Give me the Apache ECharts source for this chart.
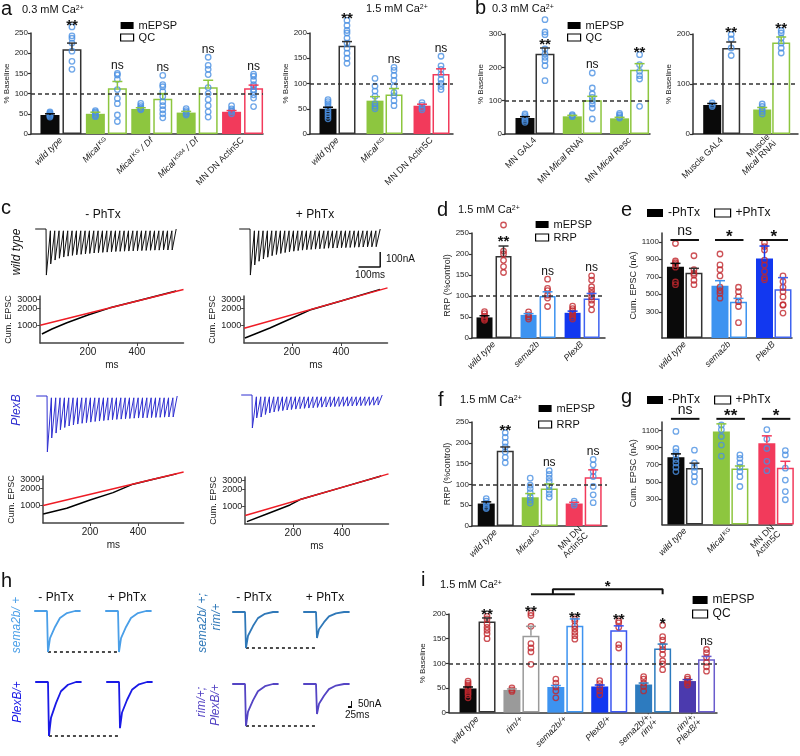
<!DOCTYPE html>
<html>
<head>
<meta charset="utf-8">
<script src="https://cdn.jsdelivr.net/npm/echarts@6.0.0/dist/echarts.min.js"></script>
<style>
html, body { margin: 0; padding: 0; background: #fff; }
#fig { width: 800px; height: 756px; }
</style>
</head>
<body>
<div id="fig"></div>
<script>
var FONT = 'Liberation Sans, Arial, sans-serif';
var GREEN = '#8dc63f', PINK = '#f23a5b', DOT_BLUE = '#4a90e2', DOT_RED = '#c1272d';
var SKY = '#3d93f0', BLUE = '#1238f0', STEEL = '#2d7bbf', PURPLE = '#4b3aae', GREY = '#9a9a9a';

// ---------- a: 0.3 mM Ca ----------
var aLowCats = ['{i|wild type}', '{i|Mical}{s| KG}', '{i|Mical}{s| KG}{i| / Df}', '{i|Mical}{s| K584}{i| / Df}', 'MN DN Actin5C'];
var aLowMepsp = [47, 50, 62, 53, 55];
var aLowMepspErr = [3, 4, 3, 3, 3];
var aLowMepspDots = [[55, 50, 47, 45, 42, 52], [58, 55, 52, 48, 45, 43], [76, 70, 66, 62, 60], [63, 58, 54, 50, 47], [70, 62, 58, 55, 50]];
var aLowQc = [210, 113, 87, 116, 113];
var aLowQcErr = [15, 17, 13, 17, 8];
var aLowQcDots = [[265, 243, 237, 225, 205, 180, 160], [150, 146, 135, 110, 88, 75, 47, 31], [145, 122, 117, 105, 93, 80, 70, 60, 50, 40], [190, 170, 160, 147, 115, 100, 85, 70, 55, 42], [148, 143, 133, 122, 118, 110, 105, 97, 89, 68]];
var aLowSig = ['**', 'ns', 'ns', 'ns', 'ns'];

// ---------- a: 1.5 mM Ca ----------
var aHighCats = ['{i|wild type}', '{i|Mical}{s| KG}', 'MN DN Actin5C'];
var aHighMepsp = [50, 66, 56];
var aHighMepspErr = [3, 8, 3];
var aHighMepspDots = [[68, 64, 60, 55, 50, 45, 40, 35, 30], [110, 95, 85, 75, 60, 55, 50], [62, 57, 52, 48]];
var aHighQc = [175, 78, 119];
var aHighQcErr = [8, 12, 10];
var aHighQcDots = [[225, 215, 205, 200, 190, 180, 170, 160, 150, 140], [132, 126, 116, 106, 94, 82, 76, 66, 56], [154, 135, 128, 118, 108, 100, 94, 88]];
var aHighSig = ['**', 'ns', 'ns'];

// ---------- b: MN ----------
var bMnCats = ['MN GAL4', 'MN {i|Mical} RNAi', 'MN {i|Mical} Resc'];
var bMnMepsp = [48, 53, 47];
var bMnMepspErr = [4, 3, 3];
var bMnMepspDots = [[60, 55, 50, 45, 40, 35], [58, 55, 52], [62, 57, 52, 48]];
var bMnQc = [241, 101, 193];
var bMnQcErr = [17, 12, 18];
var bMnQcDots = [[343, 306, 298, 255, 240, 230, 220, 205, 160], [183, 138, 120, 110, 100, 90, 78, 45], [238, 208, 188, 175, 165, 83]];
var bMnSig = ['**', 'ns', '**'];

// ---------- b: muscle ----------
var bMusCats = ['Muscle GAL4', 'Muscle\n{i|Mical} RNAi'];
var bMusMepsp = [58, 49];
var bMusMepspErr = [3, 4];
var bMusMepspDots = [[62, 58, 55], [60, 55, 50, 45, 40]];
var bMusQc = [172, 183];
var bMusQcErr = [12, 11];
var bMusQcDots = [[199, 190, 172, 157], [207, 202, 192, 182, 172, 162]];
var bMusSig = ['**', '**'];

// ---------- c: trains (peak amplitude per pulse, nA) ----------
var cWtMinusPeaks = [307, 233, 207, 195, 187, 181, 176, 172, 169, 166, 163, 160, 158, 156, 154, 152, 150, 149, 148, 147, 146, 145, 144, 143, 142, 141, 141, 140, 140, 140];
var cWtPlusPeaks = [307, 240, 215, 200, 188, 178, 170, 163, 157, 152, 148, 144, 141, 138, 136, 134, 132, 130, 128, 127, 126, 125, 124, 123, 122, 121, 120, 120, 119, 118];
var cPlexMinusPeaks = [373, 280, 247, 225, 210, 200, 193, 187, 182, 178, 174, 170, 167, 164, 161, 158, 156, 154, 152, 150, 148, 147, 146, 145, 144, 143, 142, 141, 140, 140];
var cPlexPlusPeaks = [220, 153, 147, 130, 120, 113, 108, 104, 100, 97, 94, 91, 89, 87, 85, 83, 81, 80, 78, 77, 76, 75, 74, 73, 72, 71, 70, 69, 68, 67];

// ---------- c: cumulative EPSC [ms, nA] ----------
var cumTicks = [1000, 2000, 3000];
var cumWtMinusBlack = [[12, 684], [53, 845], [114, 1102], [200, 1525], [290, 2069], [400, 2767], [560, 4230]];
var cumWtMinusRed = [[5, 990], [590, 4500]];
var cumWtPlusBlack = [[8, 577], [49, 684], [110, 881], [192, 1288], [273, 1884], [400, 2767], [560, 4520]];
var cumWtPlusRed = [[5, 875], [590, 4815]];
var cumPlexMinusBlack = [[5, 687], [103, 873], [200, 1241], [296, 1690], [379, 2416], [460, 2938], [560, 3733]];
var cumPlexMinusRed = [[5, 983], [590, 4030]];
var cumPlexPlusBlack = [[12, 518], [93, 716], [188, 1048], [229, 1316], [400, 2203], [560, 3565]];
var cumPlexPlusRed = [[5, 670], [590, 3900]];

// ---------- d ----------
var dCats = ['{i|wild type}', '{i|sema2b}', '{i|PlexB}'];
var dMepsp = [49, 55, 60];
var dMepspErr = [4, 3, 4];
var dMepspDots = [[63, 58, 52, 48, 45, 42], [62, 55, 50, 45], [76, 70, 65, 60, 55, 50, 45]];
var dRrp = [195, 100, 94];
var dRrpErr = [24, 10, 12];
var dRrpDots = [[269, 207, 200, 185, 170, 156], [140, 118, 113, 102, 95, 75], [148, 138, 122, 114, 106, 98, 90, 81, 67]];
var dSig = ['**', 'ns', 'ns'];

// ---------- e ----------
var eCats = ['{i|wild type}', '{i|sema2b}', '{i|PlexB}'];
var eMinus = [815, 598, 910];
var eMinusErr = [38, 57, 141];
var eMinusDots = [[1080, 880, 860, 840, 810, 640, 610], [960, 835, 780, 710, 580, 540, 510, 455], [1090, 1045, 1005, 890, 835, 760, 690, 665]];
var ePlus = [747, 415, 556];
var ePlusErr = [49, 38, 134];
var ePlusDots = [[940, 780, 740, 720, 660, 610], [580, 530, 470, 415, 360, 175], [710, 645, 580, 530, 470, 380, 375, 285]];
var eSig = ['ns', '*', '*'];

// ---------- f ----------
var fCats = ['{i|wild type}', '{i|Mical}{s| KG}', 'MN DN\nActin5C'];
var fMepsp = [54, 69, 54];
var fMepspErr = [4, 9, 3];
var fMepspDots = [[66, 60, 55, 50, 45, 42], [115, 98, 90, 80, 70, 62, 55], [60, 55, 50]];
var fRrp = [181, 90, 117];
var fRrpErr = [9, 11, 18];
var fRrpDots = [[224, 213, 201, 190, 178, 165, 152], [133, 124, 115, 107, 96, 86, 77, 69], [160, 147, 131, 119, 95, 75, 56]];
var fSig = ['**', 'ns', 'ns'];

// ---------- g ----------
var gCats = ['{i|wild type}', '{i|Mical}{s| KG}', 'MN DN\nActin5C'];
var gMinus = [788, 1089, 952];
var gMinusErr = [39, 89, 86];
var gMinusDots = [[1090, 890, 850, 815, 760, 720, 670, 620], [1165, 1110, 1030, 930, 800], [1110, 1000, 890, 740, 630]];
var gPlus = [662, 655, 665];
var gPlusErr = [56, 30, 75];
var gPlusDots = [[870, 720, 670, 620, 560, 500], [815, 775, 720, 670, 620, 560, 445], [865, 815, 660, 520, 385, 290]];
var gSig = ['ns', '**', '*'];

// ---------- h: single EPSCs [ms] -> nA ----------
var hTime = [-80, 0, 6, 19, 50, 81, 125, 175, 210];
var hSemaMinus = [0, 0, -342, -226, -133, -58, -17, 0, 0];
var hSemaPlus = [0, 0, -342, -226, -133, -58, -17, 0, 0];
var hPlexMinus = [0, 0, -450, -297, -176, -77, -23, 0, 0];
var hPlexPlus = [0, 0, -385, -254, -150, -65, -19, 0, 0];
var hSemaRimMinus = [0, 0, -300, -198, -117, -51, -15, 0, 0];
var hSemaRimPlus = [0, 0, -217, -143, -85, -37, -11, 0, 0];
var hRimPlexMinus = [0, 0, -350, -231, -137, -60, -18, 0, 0];
var hRimPlexPlus = [0, 0, -250, -165, -98, -43, -13, 0, 0];

// ---------- i ----------
var iCats = ['{i|wild type}', '{i|rim/+}', '{i|sema2b/+}', '{i|PlexB/+}', '{i|sema2b/+;}\n{i|rim/+}', '{i|rim/+;}\n{i|PlexB/+}'];
var iMepsp = [49, 46, 52, 53, 57, 64];
var iMepspErr = [3, 2, 3, 3, 3, 3];
var iMepspDots = [[64, 60, 56, 52, 48, 44, 40, 36, 30], [50, 46, 43], [68, 60, 52, 44, 30], [65, 59, 51, 44, 36], [73, 68, 60, 53, 44], [72, 68, 64, 60, 56]];
var iQc = [185, 156, 176, 167, 130, 108];
var iQcErr = [7, 19, 14, 9, 9, 6];
var iQcDots = [[195, 190, 180, 173, 167, 160, 150], [202, 197, 175, 140, 131, 123, 98], [190, 186, 176, 170, 163, 156, 149], [186, 182, 173, 138, 131], [177, 154, 147, 136, 128, 118, 105, 99, 87], [128, 121, 112, 102, 93, 84]];
var iSig = ['**', '**', '**', '**', '*', 'ns'];
var iBracketLeft = [1, 2], iBracketRight = 4, iBracketSig = '*';

// ================= builders =================
var grids = [], xAxes = [], yAxes = [], series = [], legends = [], graphics = [];

var RICH = {
  i: { fontStyle: 'italic', fontFamily: FONT, fontSize: 9, color: '#222' },
  s: { fontFamily: FONT, fontSize: 6, color: '#222', verticalAlign: 'top' }
};

function addGrid(box) {
  grids.push({ left: box[0], top: box[1], width: box[2], height: box[3] });
  return grids.length - 1;
}

function dotRows(arrs, dx) {
  var out = [];
  arrs.forEach(function (a, i) { a.forEach(function (v) { out.push([i + dx, v]); }); });
  return out;
}

function sigText(x, y, s, size) {
  var star = s.indexOf('*') >= 0;
  return {
    type: 'text', x: x, y: y + (star ? 6 : -2),
    style: {
      text: s, fill: '#111', fontFamily: FONT, fontSize: star ? size + 3 : size,
      fontWeight: star ? 'bold' : 'normal', align: 'center', verticalAlign: 'bottom'
    }
  };
}

function barPanel(p) {
  var gi = addGrid(p.box);
  var xi = xAxes.length, yi = yAxes.length;
  var unit = p.box[2] / (p.xRange[1] - p.xRange[0]);
  var off = (p.barW + p.gap) / 2 / unit;
  var idx = p.cats.map(function (c, i) { return i; });
  xAxes.push({
    gridIndex: gi, type: 'value', min: p.xRange[0], max: p.xRange[1],
    splitLine: { show: false },
    axisLine: { onZero: false, lineStyle: { color: '#333', width: 1.5 } },
    axisTick: { show: false },
    axisLabel: {
      customValues: idx, formatter: function (v) { return p.cats[Math.round(v)]; },
      rotate: 45, margin: 5, fontSize: 9, color: '#222', fontFamily: FONT, rich: RICH
    }
  });
  yAxes.push({
    gridIndex: gi, type: 'value', min: 0, max: p.yMax,
    name: p.yName, nameLocation: 'middle', nameGap: p.nameGap,
    nameTextStyle: { fontSize: p.nameSize || 8, color: '#222', fontFamily: FONT },
    splitLine: { show: false },
    axisLine: { show: true, onZero: false, lineStyle: { color: '#333', width: 1.5 } },
    axisTick: { show: true, length: 3, customValues: p.yTicks, lineStyle: { color: '#333', width: 1.2 } },
    axisLabel: {
      customValues: p.yTicks, fontSize: 8, color: '#222', margin: 3, fontFamily: FONT,
      formatter: function (v) { return String(v); }
    }
  });

  var first = {
    type: 'bar', name: p.names[0], xAxisIndex: xi, yAxisIndex: yi,
    barWidth: p.barW, barGap: '-100%', z: 2, silent: true,
    data: p.v1.map(function (v, i) { return { value: [i - off, v], itemStyle: { color: p.fill[i] } }; })
  };
  if (p.ref) {
    first.markLine = {
      silent: true, symbol: 'none', label: { show: false }, z: 6,
      lineStyle: { color: '#333', type: [4, 3], width: 1.5 }, data: [{ yAxis: p.ref }]
    };
  }
  series.push(first);
  series.push({
    type: 'bar', name: p.names[1], xAxisIndex: xi, yAxisIndex: yi,
    barWidth: p.barW, barGap: '-100%', z: 2, silent: true,
    data: p.v2.map(function (v, i) {
      return { value: [i + off, v], itemStyle: { color: '#fff', borderColor: p.edge[i], borderWidth: 1.5 } };
    })
  });

  // dots
  series.push({
    type: 'scatter', xAxisIndex: xi, yAxisIndex: yi, z: 4, clip: false, silent: true,
    symbol: 'circle', symbolSize: 5.5,
    itemStyle: { color: 'rgba(255,255,255,0)', borderColor: p.dot, borderWidth: 1.3 },
    data: dotRows(p.d1, -off).concat(dotRows(p.d2, off))
  });

  // error bars
  var rows = [];
  p.v1.forEach(function (v, i) { rows.push([i - off, v, p.e1[i], 0, i]); });
  p.v2.forEach(function (v, i) { rows.push([i + off, v, p.e2[i], 1, i]); });
  series.push({
    type: 'custom', xAxisIndex: xi, yAxisIndex: yi, z: 5, clip: false, silent: true,
    encode: { x: 0, y: 1 }, data: rows,
    renderItem: function (params, api) {
      var col = api.value(3) ? p.edge[api.value(4)] : p.fill[api.value(4)];
      var b = api.coord([api.value(0), api.value(1)]);
      var t = api.coord([api.value(0), api.value(1) + api.value(2)]);
      return {
        type: 'group', children: [
          { type: 'line', shape: { x1: b[0], y1: b[1], x2: t[0], y2: t[1] }, style: { stroke: col, lineWidth: 1.5 } },
          { type: 'line', shape: { x1: t[0] - 5, y1: t[1], x2: t[0] + 5, y2: t[1] }, style: { stroke: col, lineWidth: 1.5 } }
        ]
      };
    }
  });

  // significance
  series.push({
    type: 'custom', xAxisIndex: xi, yAxisIndex: yi, z: 6, clip: false, silent: true,
    encode: { x: 0, y: 1 },
    data: p.sig.map(function (s, i) {
      var top;
      if (p.sigLevel != null) top = p.sigLevel;
      else if (p.sigAt && p.sigAt[i] != null) top = p.sigAt[i];
      else top = Math.max.apply(null, p.d2[i].concat([p.v2[i] + p.e2[i]]));
      return [i, top];
    }),
    renderItem: function (params, api) {
      var s = p.sig[params.dataIndex];
      var kids = [];
      var x = api.value(0), lvl = api.value(1), c;
      if (p.sigLevel != null) {
        var l = api.coord([x - off, lvl]), r = api.coord([x + off, lvl]);
        kids.push({ type: 'line', shape: { x1: l[0] - 5, y1: l[1], x2: r[0] + 5, y2: r[1] }, style: { stroke: '#111', lineWidth: 2 } });
        c = api.coord([x, lvl]);
      } else {
        c = api.coord([x + off, lvl]);
      }
      kids.push(sigText(c[0], c[1], s, p.sigSize || 12));
      return { type: 'group', children: kids };
    }
  });
  return { x: xi, y: yi, off: off };
}

function hiddenPanel(box, xr, yr) {
  var gi = addGrid(box);
  xAxes.push({ gridIndex: gi, type: 'value', min: xr[0], max: xr[1], show: false, axisLine: { onZero: false } });
  yAxes.push({ gridIndex: gi, type: 'value', min: yr[0], max: yr[1], show: false, axisLine: { onZero: false } });
  return { x: xAxes.length - 1, y: yAxes.length - 1 };
}

function addLine(ax, data, color, width, dash) {
  series.push({
    type: 'line', xAxisIndex: ax.x, yAxisIndex: ax.y, data: data, symbol: 'none', clip: false, silent: true, z: 3,
    lineStyle: { color: color, width: width, type: dash || 'solid' }
  });
}

var PULSE_MS = 20, TRACE_TOP = -12;
function trainRows(peaks) {
  var pts = [[-50, 0], [0, 0]];
  peaks.forEach(function (pk, i) {
    var t = i * PULSE_MS;
    pts.push([t + 1.5, -pk]);
    pts.push([t + PULSE_MS, i === peaks.length - 1 ? 0 : TRACE_TOP]);
  });
  return pts;
}

function scaleBarRows(b) {
  return [[b.t0, b.y0], [b.t0 + b.dt, b.y0], [b.t0 + b.dt, b.y0 + b.dy]];
}

function logRow(p) { return [p[0], Math.log10(p[1])]; }

// y axis of the cumulative plots stops a little above the 3000 tick; lines run past it
var CUM_MIN = 468, CUM_MAX = 3400;
function cumPanel(box, black, red) {
  var gi = addGrid(box);
  var ticks = cumTicks.map(function (v) { return Math.log10(v); });
  xAxes.push({
    gridIndex: gi, type: 'value', min: 5, max: 590,
    name: 'ms', nameLocation: 'middle', nameGap: 17, nameTextStyle: { fontSize: 10, color: '#222', fontFamily: FONT },
    splitLine: { show: false },
    axisLine: { onZero: false, lineStyle: { color: '#444', width: 1.5 } },
    axisTick: { customValues: [200, 400], length: 3, lineStyle: { color: '#444' } },
    axisLabel: { customValues: [200, 400], fontSize: 10, color: '#222', margin: 4, fontFamily: FONT }
  });
  yAxes.push({
    gridIndex: gi, type: 'value', min: Math.log10(CUM_MIN), max: Math.log10(CUM_MAX),
    name: 'Cum. EPSC', nameLocation: 'middle', nameGap: 27, nameTextStyle: { fontSize: 9, color: '#222', fontFamily: FONT },
    splitLine: { show: false },
    axisLine: { show: true, onZero: false, lineStyle: { color: '#444', width: 1.5 } },
    axisTick: { show: true, customValues: ticks, length: 3, lineStyle: { color: '#444' } },
    axisLabel: {
      customValues: ticks, fontSize: 9, color: '#222', margin: 3, fontFamily: FONT,
      formatter: function (v) { return String(Math.round(Math.pow(10, v))); }
    }
  });
  var ax = { x: xAxes.length - 1, y: yAxes.length - 1 };
  addLine(ax, black.map(logRow), '#000', 1.5);
  addLine(ax, red.map(logRow), '#ee1c25', 1.5);
}

function legendBox(left, top, items, o) {
  o = o || {};
  legends.push({
    left: left, top: top, orient: o.orient || 'vertical', padding: 0, selectedMode: false,
    itemWidth: o.w || 13, itemHeight: o.h || 7, itemGap: o.gap || 1,
    textStyle: { fontSize: o.size || 11, color: '#111', fontFamily: FONT, lineHeight: o.lh || 11 },
    data: items
  });
}
function solid(n) { return { name: n, icon: 'rect', itemStyle: { color: '#000', borderWidth: 0 } }; }
function open(n) { return { name: n, icon: 'rect', itemStyle: { color: '#fff', borderColor: '#000', borderWidth: 1.2 } }; }

var CA_RICH = { sup: { fontSize: 7, fontFamily: FONT, fill: '#111', verticalAlign: 'top' } };
function txt(text, x, y, o) {
  o = o || {};
  graphics.push({
    type: 'text', x: x, y: y, rotation: o.rot || 0, silent: true,
    style: {
      text: text, fill: o.color || '#111', fontSize: o.size || 12, fontFamily: FONT,
      fontStyle: o.italic ? 'italic' : 'normal', align: o.align || 'left', verticalAlign: o.va || 'middle',
      rich: o.rich
    }
  });
}

// ================= panels =================
var BLACK = '#0a0a0a', EDGE = '#333';

barPanel({ box: [31, 33, 232, 101], xRange: [-0.66, 4.45], yMax: 250, yTicks: [0, 50, 100, 150, 200, 250],
  yName: '% Baseline', nameGap: 18, cats: aLowCats, barW: 19, gap: 3, names: ['mEPSP', 'QC'], ref: 100,
  fill: [BLACK, GREEN, GREEN, GREEN, PINK], edge: [EDGE, GREEN, GREEN, GREEN, PINK], dot: DOT_BLUE,
  v1: aLowMepsp, e1: aLowMepspErr, d1: aLowMepspDots, v2: aLowQc, e2: aLowQcErr, d2: aLowQcDots, sig: aLowSig });

barPanel({ box: [310, 33, 143, 101], xRange: [-0.585, 2.457], yMax: 200, yTicks: [0, 50, 100, 150, 200],
  yName: '% Baseline', nameGap: 17, cats: aHighCats, barW: 17, gap: 2, names: ['mEPSP', 'QC'], ref: 100,
  fill: [BLACK, GREEN, PINK], edge: [EDGE, GREEN, PINK], dot: DOT_BLUE,
  v1: aHighMepsp, e1: aHighMepspErr, d1: aHighMepspDots, v2: aHighQc, e2: aHighQcErr, d2: aHighQcDots, sig: aHighSig });

barPanel({ box: [505, 34, 145, 100], xRange: [-0.634, 2.432], yMax: 300, yTicks: [0, 100, 200, 300],
  yName: '% Baseline', nameGap: 19, cats: bMnCats, barW: 19, gap: 1, names: ['mEPSP', 'QC'], ref: 100,
  fill: [BLACK, GREEN, GREEN], edge: [EDGE, GREEN, GREEN], dot: DOT_BLUE, sigAt: [262, null, null],
  v1: bMnMepsp, e1: bMnMepspErr, d1: bMnMepspDots, v2: bMnQc, e2: bMnQcErr, d2: bMnQcDots, sig: bMnSig });

barPanel({ box: [693, 34, 105, 100], xRange: [-0.574, 1.526], yMax: 200, yTicks: [0, 100, 200],
  yName: '% Baseline', nameGap: 16, cats: bMusCats, barW: 18, gap: 1, names: ['mEPSP', 'QC'], ref: 100,
  fill: [BLACK, GREEN], edge: [EDGE, GREEN], dot: DOT_BLUE,
  v1: bMusMepsp, e1: bMusMepspErr, d1: bMusMepspDots, v2: bMusQc, e2: bMusQcErr, d2: bMusQcDots, sig: bMusSig });

barPanel({ box: [472, 233, 133, 105], xRange: [-0.5, 2.52], yMax: 250, yTicks: [0, 50, 100, 150, 200, 250],
  yName: 'RRP (%control)', nameGap: 20, nameSize: 9, cats: dCats, barW: 16, gap: 3, names: ['mEPSP', 'RRP'], ref: 100,
  fill: [BLACK, SKY, BLUE], edge: [EDGE, SKY, '#3f63f0'], dot: DOT_RED, sigAt: [226, null, null],
  v1: dMepsp, e1: dMepspErr, d1: dMepspDots, v2: dRrp, e2: dRrpErr, d2: dRrpDots, sig: dSig });

barPanel({ box: [662, 233, 130, 105], xRange: [-0.51, 2.41], yMax: 1200, yTicks: [300, 500, 700, 900, 1100],
  yName: 'Cum. EPSC (nA)', nameGap: 24, nameSize: 9, cats: eCats, barW: 17, gap: 1.5, names: ['-PhTx', '+PhTx'],
  fill: [BLACK, SKY, BLUE], edge: [EDGE, SKY, '#3f63f0'], dot: DOT_RED, sigLevel: 1120, sigSize: 14,
  v1: eMinus, e1: eMinusErr, d1: eMinusDots, v2: ePlus, e2: ePlusErr, d2: ePlusDots, sig: eSig });

barPanel({ box: [472, 422, 135, 104], xRange: [-0.54, 2.53], yMax: 250, yTicks: [0, 50, 100, 150, 200, 250],
  yName: 'RRP (%control)', nameGap: 20, nameSize: 9, cats: fCats, barW: 17, gap: 2, names: ['mEPSP', 'RRP'], ref: 100,
  fill: [BLACK, GREEN, PINK], edge: [EDGE, GREEN, PINK], dot: DOT_BLUE,
  v1: fMepsp, e1: fMepspErr, d1: fMepspDots, v2: fRrp, e2: fRrpErr, d2: fRrpDots, sig: fSig });

barPanel({ box: [662, 422, 130, 102.5], xRange: [-0.51, 2.35], yMax: 1200, yTicks: [300, 500, 700, 900, 1100],
  yName: 'Cum. EPSC (nA)', nameGap: 24, nameSize: 9, cats: gCats, barW: 17, gap: 1.5, names: ['-PhTx', '+PhTx'],
  fill: [BLACK, GREEN, PINK], edge: [EDGE, GREEN, PINK], dot: DOT_BLUE, sigLevel: 1237, sigSize: 14,
  v1: gMinus, e1: gMinusErr, d1: gMinusDots, v2: gPlus, e2: gPlusErr, d2: gPlusDots, sig: gSig });

var iAx = barPanel({ box: [449, 614, 268, 104], xRange: [-0.65, 5.455], yMax: 200, yTicks: [0, 50, 100, 150, 200],
  yName: '% Baseline', nameGap: 22, cats: iCats, barW: 17, gap: 2, names: ['mEPSP', 'QC'], ref: 100,
  fill: [BLACK, GREY, SKY, BLUE, STEEL, PURPLE], edge: [EDGE, GREY, SKY, '#3a55f0', STEEL, '#6a5ccc'], dot: DOT_RED,
  v1: iMepsp, e1: iMepspErr, d1: iMepspDots, v2: iQc, e2: iQcErr, d2: iQcDots, sig: iSig });

// bracket in i
var BR_LOW = 240, BR_HIGH = 250;
var brMid = (iBracketLeft[0] + iBracketLeft[1]) / 2 + iAx.off;
var brRight = iBracketRight + iAx.off;
addLine(iAx, [[iBracketLeft[0] + iAx.off, BR_LOW], [iBracketLeft[1] + iAx.off, BR_LOW]], '#111', 2);
addLine(iAx, [[brMid, BR_LOW], [brMid, BR_HIGH], [brRight, BR_HIGH], [brRight, BR_LOW]], '#111', 2);
series.push({
  type: 'custom', xAxisIndex: iAx.x, yAxisIndex: iAx.y, clip: false, silent: true, z: 6,
  encode: { x: 0, y: 1 }, data: [[(brMid + brRight) / 2, BR_HIGH]],
  renderItem: function (params, api) {
    var c = api.coord([api.value(0), api.value(1)]);
    return sigText(c[0], c[1] - 1, iBracketSig, 12);
  }
});

// c: trains
var C_XR = [-50, 600], C_YR = [-390, 20];
var C_PLEX = '#2f2fd0';
var t1 = hiddenPanel([35.2, 226, 141, 61.5], C_XR, C_YR);
addLine(t1, trainRows(cWtMinusPeaks), '#111', 1);
var t2 = hiddenPanel([239.2, 226, 141, 61.5], C_XR, C_YR);
addLine(t2, trainRows(cWtPlusPeaks), '#111', 1);
addLine(t2, scaleBarRows({ t0: 500, y0: -253, dt: 100, dy: 100 }), '#111', 1.5);
var t3 = hiddenPanel([36.2, 393, 141, 61.5], C_XR, C_YR);
addLine(t3, trainRows(cPlexMinusPeaks), C_PLEX, 1);
var t4 = hiddenPanel([241.2, 392, 141, 61.5], C_XR, C_YR);
addLine(t4, trainRows(cPlexPlusPeaks), C_PLEX, 1);

cumPanel([40.2, 296.1, 143.3, 46.9], cumWtMinusBlack, cumWtMinusRed);
cumPanel([244.2, 296.1, 143.3, 46.9], cumWtPlusBlack, cumWtPlusRed);
cumPanel([43.2, 476.1, 140.4, 46.9], cumPlexMinusBlack, cumPlexMinusRed);
cumPanel([245.2, 477.1, 143.3, 46.9], cumPlexPlusBlack, cumPlexPlusRed);

// h: single EPSCs
var H_XR = [-80, 654], H_YR = [-470, 10], H_SHIFT = 444;
function epscRows(vals, shift) { return hTime.map(function (t, k) { return [t + shift, vals[k]]; }); }
function epscPair(box, minus, plus, color) {
  var ax = hiddenPanel(box, H_XR, H_YR);
  var pk = Math.min.apply(null, minus);
  addLine(ax, [[hTime[2], pk], [hTime[2] + H_SHIFT, pk]], '#111', 1.5, [3, 3]);
  addLine(ax, epscRows(minus, 0), color, 1.8);
  addLine(ax, epscRows(plus, H_SHIFT), color, 1.8);
  return ax;
}
epscPair([34.2, 609.8, 117.4, 57.6], hSemaMinus, hSemaPlus, '#4a9fe8');
epscPair([35.2, 680.8, 117.4, 57.6], hPlexMinus, hPlexPlus, '#1a1ae6');
epscPair([232.2, 610.8, 117.4, 57.6], hSemaRimMinus, hSemaRimPlus, '#2f78b8');
var hLast = epscPair([232.2, 682.8, 117.4, 57.6], hRimPlexMinus, hRimPlexPlus, '#5444c4');
addLine(hLast, scaleBarRows({ t0: 644, y0: -192, dt: 25, dy: 50 }), '#111', 2);

// legends
legendBox(120, 20, [solid('mEPSP'), open('QC')]);
legendBox(567, 20, [solid('mEPSP'), open('QC')]);
legendBox(535, 219, [solid('mEPSP'), open('RRP')], { gap: 2 });
legendBox(538, 403, [solid('mEPSP'), open('RRP')], { gap: 5 });
legendBox(647, 207, [solid('-PhTx'), open('+PhTx')], { orient: 'horizontal', w: 16, h: 8, gap: 14, size: 12, lh: 12 });
legendBox(647, 394, [solid('-PhTx'), open('+PhTx')], { orient: 'horizontal', w: 16, h: 8, gap: 14, size: 12, lh: 12 });
legendBox(692, 594, [solid('mEPSP'), open('QC')], { w: 15, h: 8, gap: 2, size: 12, lh: 12 });

// letters and titles
txt('a', 1, 9, { size: 20 });
txt('0.3 mM Ca{sup|2+}', 22, 10, { size: 11, rich: CA_RICH });
txt('1.5 mM Ca{sup|2+}', 366, 9, { size: 11, rich: CA_RICH });
txt('b', 475, 8, { size: 20 });
txt('0.3 mM Ca{sup|2+}', 492, 9, { size: 11, rich: CA_RICH });
txt('c', 1, 208, { size: 20 });
txt('d', 437, 210, { size: 20 });
txt('1.5 mM Ca{sup|2+}', 458, 210, { size: 11, rich: CA_RICH });
txt('e', 621, 210, { size: 20 });
txt('f', 438, 400, { size: 20 });
txt('1.5 mM Ca{sup|2+}', 460, 400, { size: 11, rich: CA_RICH });
txt('g', 621, 397, { size: 20 });
txt('h', 1, 581, { size: 20 });
txt('i', 421, 580, { size: 20 });
txt('1.5 mM Ca{sup|2+}', 440, 585, { size: 11, rich: CA_RICH });

// c labels
txt('- PhTx', 103, 215, { align: 'center' });
txt('+ PhTx', 315, 215, { align: 'center' });
txt('wild type', 17, 252, { align: 'center', italic: true, rot: Math.PI / 2 });
txt('PlexB', 17, 410, { align: 'center', italic: true, rot: Math.PI / 2, color: C_PLEX });
txt('100nA', 386, 259, { size: 10 });
txt('100ms', 370, 275, { size: 10, align: 'center' });

// h labels
txt('- PhTx', 56, 598, { align: 'center' });
txt('+ PhTx', 127, 598, { align: 'center' });
txt('- PhTx', 254, 598, { align: 'center' });
txt('+ PhTx', 325, 598, { align: 'center' });
txt('sema2b/ +', 17, 625, { align: 'center', italic: true, rot: Math.PI / 2, color: '#4a9fe8' });
txt('PlexB/+', 18, 702, { align: 'center', italic: true, rot: Math.PI / 2, color: '#1a1ae6' });
txt('sema2b/ +;', 203, 623, { align: 'center', italic: true, rot: Math.PI / 2, color: '#2f78b8' });
txt('rim/+', 217, 617, { align: 'center', italic: true, rot: Math.PI / 2, color: '#2f78b8' });
txt('rim/+;', 202, 702, { align: 'center', italic: true, rot: Math.PI / 2, color: '#5444c4' });
txt('PlexB/+', 216, 705, { align: 'center', italic: true, rot: Math.PI / 2, color: '#5444c4' });
txt('50nA', 358, 704, { size: 10 });
txt('25ms', 345, 715, { size: 10 });

var chart = echarts.init(document.getElementById('fig'));
chart.setOption({
  animation: false,
  textStyle: { fontFamily: FONT },
  grid: grids,
  xAxis: xAxes,
  yAxis: yAxes,
  legend: legends,
  series: series,
  graphic: { elements: graphics }
});
</script>
</body>
</html>
